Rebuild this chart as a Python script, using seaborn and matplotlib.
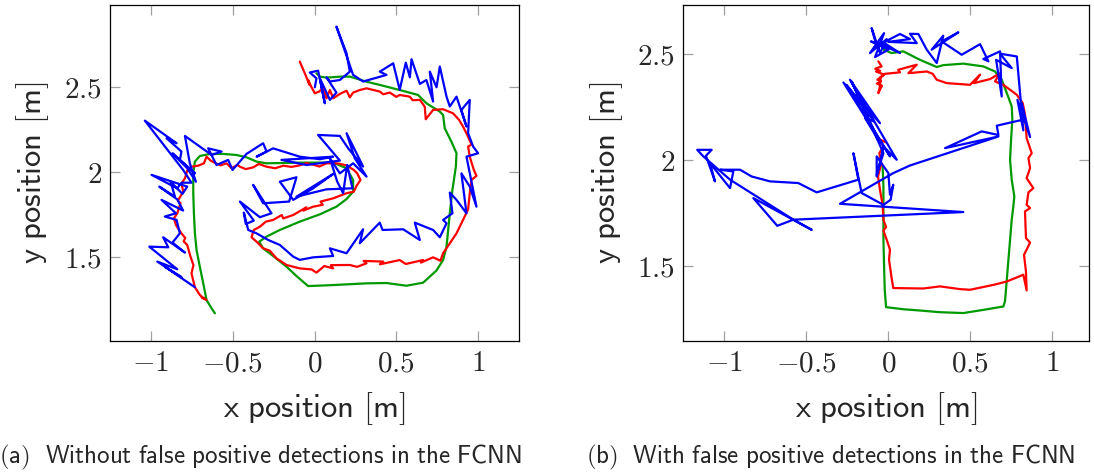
import numpy as np
import pandas as pd
import matplotlib
matplotlib.use("Agg")
import matplotlib.pyplot as plt
from matplotlib.ticker import FixedLocator, FuncFormatter
import seaborn as sns

# ---------------- data: panel (a) ----------------
a_gt_x = [-0.609, -0.629, -0.660, -0.680, -0.701, -0.721, -0.731, -0.737, -0.741, -0.741, -0.731, -0.701,
          -0.640, -0.558, -0.477, -0.415, -0.354, -0.293, -0.090, 0.114, 0.196, 0.236, 0.236, 0.196, 0.134,
          0.033, -0.090, -0.212, -0.293, -0.338, -0.314, -0.253, -0.171, -0.110, -0.039, 0.114, 0.318, 0.440,
          0.562, 0.664, 0.745, 0.786, 0.807, 0.817, 0.827, 0.843, 0.864, 0.868, 0.837, 0.796, 0.786, 0.766,
          0.684, 0.633, 0.521, 0.399, 0.318, 0.216, 0.165, 0.073, 0.033, 0.012]
a_gt_y = [1.167, 1.196, 1.245, 1.343, 1.441, 1.539, 1.637, 1.755, 1.873, 1.990, 2.059, 2.092,
          2.104, 2.104, 2.098, 2.084, 2.059, 2.049, 2.053, 2.053, 2.020, 1.951, 1.882, 1.839, 1.794,
          1.749, 1.706, 1.657, 1.618, 1.588, 1.549, 1.504, 1.441, 1.386, 1.327, 1.333, 1.343, 1.345,
          1.329, 1.347, 1.418, 1.480, 1.559, 1.657, 1.755, 1.892, 2.029, 2.108, 2.176, 2.255, 2.333, 2.353,
          2.402, 2.451, 2.480, 2.510, 2.529, 2.559, 2.559, 2.553, 2.559, 2.578]

a_est_x = [-0.660, -0.690, -0.672, -0.701, -0.731, -0.752, -0.740, -0.758, -0.778, -0.800, -0.790, -0.813,
           -0.847, -0.859, -0.839, -0.819, -0.835, -0.802, -0.813, -0.792, -0.778, -0.752, -0.711, -0.676,
           -0.660, -0.635, -0.603, -0.574, -0.538, -0.507, -0.470, -0.456, -0.420, -0.375, -0.340, -0.293,
           -0.240, -0.191, -0.140, -0.090, -0.050, -0.008, 0.030, 0.073, 0.138, 0.196, 0.240, 0.261, 0.281,
           0.257, 0.240, 0.196, 0.114, 0.037, 0.050, -0.008, -0.069, -0.050, -0.130, -0.191, -0.200,
           -0.253, -0.297, -0.334, -0.371, -0.385, -0.354, -0.314, -0.273, -0.232, -0.171, -0.090, -0.018,
           0.012, 0.060, 0.114, 0.100, 0.216, 0.260, 0.318, 0.300, 0.420, 0.400, 0.521, 0.558, 0.664,
           0.650, 0.725, 0.770, 0.786, 0.827, 0.868, 0.908, 0.939, 0.949, 0.959, 0.990, 0.974, 0.949,
           0.939, 0.960, 0.929, 0.908, 0.884, 0.847, 0.786, 0.725, 0.680, 0.674, 0.644, 0.600, 0.582,
           0.521, 0.500, 0.460, 0.420, 0.399, 0.318, 0.277, 0.236, 0.216, 0.196, 0.155, 0.114, 0.094,
           0.073, 0.053, 0.029, 0.002, -0.018, -0.039, -0.030, -0.059, -0.090]
a_est_y = [1.245, 1.262, 1.250, 1.275, 1.320, 1.402, 1.450, 1.500, 1.569, 1.590, 1.610, 1.637,
           1.686, 1.725, 1.755, 1.814, 1.830, 1.882, 1.931, 1.961, 2.006, 2.029, 2.035, 2.049,
           2.088, 2.065, 2.049, 2.037, 2.049, 2.020, 2.040, 2.029, 2.015, 2.025, 2.045, 2.029,
           2.020, 2.035, 2.028, 2.037, 2.050, 2.041, 2.030, 2.049, 2.049, 2.037, 2.010, 1.990, 1.951,
           1.916, 1.882, 1.873, 1.843, 1.824, 1.805, 1.794, 1.771, 1.790, 1.745, 1.725, 1.745,
           1.716, 1.706, 1.676, 1.657, 1.614, 1.588, 1.549, 1.535, 1.490, 1.451, 1.431, 1.425,
           1.406, 1.445, 1.431, 1.450, 1.451, 1.440, 1.461, 1.475, 1.471, 1.455, 1.480, 1.457, 1.480,
           1.465, 1.496, 1.476, 1.520, 1.578, 1.637, 1.716, 1.778, 1.873, 1.951, 1.975, 2.010, 2.088,
           2.147, 2.160, 2.225, 2.265, 2.304, 2.343, 2.367, 2.363, 2.308, 2.382, 2.422, 2.420, 2.441,
           2.451, 2.440, 2.465, 2.455, 2.471, 2.490, 2.480, 2.465, 2.437, 2.476, 2.457, 2.431, 2.480,
           2.431, 2.496, 2.471, 2.461, 2.496, 2.539, 2.510, 2.578, 2.647]

a_det_x = [-0.731, -0.915, -0.813, -0.961, -0.839, -1.010, -0.894, -0.925, -0.792, -0.868, -0.823,
           -0.843, -0.915, -0.847, -0.935, -0.803, -0.839, -0.949, -0.853, -0.880, -0.807, -0.778,
           -0.996, -0.839, -0.813, -0.752, -0.803, -1.037, -0.843, -0.904, -0.813, -0.823, -0.731,
           -0.868, -0.778, -0.725, -0.762, -0.792, -0.629, -0.568, -0.650, -0.599, -0.528, -0.501,
           -0.416, -0.314, -0.293, -0.354, -0.253, -0.090, 0.033, 0.114, -0.202, -0.049, 0.155,
           0.022, 0.155, 0.206, 0.297, 0.196, 0.246, 0.318, 0.236, 0.155, 0.094, 0.139, 0.175,
           0.200, 0.232, 0.073, -0.110, 0.114, -0.008, -0.130, -0.212, -0.110, -0.155, -0.314,
           -0.375, -0.263, -0.334, -0.456, -0.371, -0.420, -0.432, -0.405, -0.354, -0.283, -0.212,
           -0.130, -0.090, -0.008, 0.114, 0.094, 0.196, 0.297, 0.277, 0.399, 0.416, 0.542, 0.644,
           0.613, 0.725, 0.766, 0.807, 0.786, 0.843, 0.827, 0.868, 0.929, 0.898, 0.949, 0.990,
           0.929, 1.000, 0.970, 0.939, 0.949, 0.898, 0.929, 0.868, 0.827, 0.807, 0.766, 0.746,
           0.705, 0.725, 0.684, 0.644, 0.593, 0.583, 0.558, 0.521, 0.481, 0.399, 0.440, 0.297,
           0.236, 0.134, 0.196, 0.216, 0.155, 0.094, 0.073, 0.134, 0.094, 0.033, 0.063, 0.022,
           -0.029, 0.012, 0.002]
a_det_y = [1.320, 1.441, 1.379, 1.471, 1.426, 1.559, 1.555, 1.614, 1.524, 1.583, 1.637,
           1.716, 1.736, 1.755, 1.834, 1.771, 1.837, 1.912, 1.853, 1.941, 1.869, 1.912,
           1.981, 1.902, 1.935, 1.935, 2.010, 2.300, 2.167, 2.196, 2.118, 2.069, 1.990,
           2.108, 2.020, 1.941, 2.049, 2.210, 2.098, 2.118, 2.137, 2.039, 2.069, 2.010,
           2.104, 2.167, 2.118, 2.088, 2.137, 2.088, 2.073, 2.088, 2.069, 2.039, 2.065,
           2.216, 2.210, 2.137, 2.030, 2.226, 2.079, 1.971, 2.049, 1.990, 2.079, 1.941, 1.873,
           2.039, 1.902, 1.896, 1.853, 1.986, 1.902, 1.834, 1.941, 1.967, 1.824, 1.814,
           1.922, 1.755, 1.732, 1.824, 1.712, 1.692, 1.759, 1.657, 1.637, 1.598, 1.569,
           1.500, 1.481, 1.496, 1.504, 1.549, 1.520, 1.661, 1.579, 1.700, 1.657, 1.661, 1.598,
           1.700, 1.657, 1.614, 1.696, 1.716, 1.755, 1.877, 1.834, 1.755, 1.990, 1.912, 1.794,
           2.088, 2.108, 2.147, 2.226, 2.422, 2.363, 2.265, 2.441, 2.383, 2.441, 2.618, 2.496,
           2.588, 2.412, 2.539, 2.516, 2.661, 2.555, 2.641, 2.481, 2.637, 2.588, 2.569, 2.530,
           2.569, 2.853, 2.696, 2.588, 2.539, 2.530, 2.555, 2.465, 2.422, 2.549, 2.402, 2.594,
           2.583, 2.549, 2.496]

# ---------------- data: panel (b) ----------------
b_gt_x = [-0.035, -0.030, -0.030, -0.030, -0.026, -0.022, -0.014, 0.091, 0.193, 0.315, 0.457, 0.579,
          0.640, 0.701, 0.711, 0.722, 0.732, 0.742, 0.752, 0.762, 0.768, 0.752, 0.742, 0.748, 0.756,
          0.752, 0.726, 0.691, 0.650, 0.579, 0.457, 0.335, 0.295, 0.193, 0.091, 0.020, -0.030]
b_gt_y = [1.969, 1.874, 1.748, 1.622, 1.496, 1.386, 1.304, 1.294, 1.288, 1.280, 1.276, 1.291,
          1.299, 1.307, 1.331, 1.433, 1.528, 1.622, 1.717, 1.780, 1.827, 1.906, 2.000, 2.094, 2.189,
          2.252, 2.307, 2.378, 2.417, 2.441, 2.454, 2.447, 2.438, 2.472, 2.512, 2.504, 2.520]

b_est_x = [-0.061, -0.041, -0.080, -0.050, -0.075, -0.026, -0.067, -0.045, -0.070, -0.039, -0.061,
           -0.052, -0.047, -0.020, 0.071, 0.060, 0.173, 0.122, 0.234, 0.270, 0.295, 0.356, 0.498,
           0.559, 0.522, 0.620, 0.681, 0.650, 0.701, 0.783, 0.819, 0.833, 0.843, 0.874, 0.854, 0.864,
           0.843, 0.884, 0.854, 0.843, 0.864, 0.833, 0.839, 0.864, 0.827, 0.839, 0.843, 0.823, 0.722,
           0.640, 0.498, 0.437, 0.315, 0.213, 0.030, 0.020, 0.004, 0.010, -0.010, -0.030, -0.014,
           -0.030, -0.035, -0.051, -0.063, -0.043, -0.055, -0.030, -0.059, -0.014]
b_est_y = [2.465, 2.441, 2.430, 2.420, 2.417, 2.402, 2.378, 2.370, 2.360, 2.350, 2.315,
           2.345, 2.391, 2.406, 2.413, 2.425, 2.449, 2.409, 2.417, 2.406, 2.378, 2.362, 2.354,
           2.402, 2.362, 2.381, 2.409, 2.370, 2.354, 2.307, 2.268, 2.213, 2.102, 2.031, 2.008, 1.961,
           1.913, 1.866, 1.846, 1.787, 1.772, 1.756, 1.630, 1.609, 1.551, 1.472, 1.383, 1.457, 1.425,
           1.409, 1.386, 1.389, 1.402, 1.392, 1.394, 1.441, 1.528, 1.575, 1.622, 1.666, 1.682,
           1.717, 1.787, 1.858, 1.921, 1.984, 2.031, 2.063, 2.098, 2.082]

b_det_x = [-0.071, -0.102, -0.051, -0.010, -0.112, -0.026, -0.081, 0.000, -0.106, -0.014, -0.061,
           0.071, -0.030, 0.071, 0.132, 0.000, 0.173, 0.132, 0.183, 0.234, 0.295, 0.335, 0.264, 0.427,
           0.325, 0.447, 0.559, 0.610, 0.579, 0.681, 0.691, 0.657, 0.752, 0.681, 0.783, 0.823, 0.787,
           0.864, 0.813, 0.819, 0.661, 0.671, 0.569, 0.346, 0.671, 0.132, 0.030, -0.295, 0.457,
           -0.579, -0.467, -0.823, -0.677, -0.579, -0.965, -1.128, -1.165, -1.077, -1.112, -1.057,
           -1.087, -0.965, -0.945, -1.026, -0.904, -0.833, -0.722, -0.549, -0.437, -0.183, -0.213,
           -0.163, -0.030, 0.014, 0.030, 0.010, 0.000, -0.071, -0.071, -0.030, 0.051, -0.234, -0.051,
           -0.274, 0.010, -0.254, -0.087, -0.142, -0.061, -0.224, -0.030, -0.071]
b_det_y = [2.535, 2.622, 2.504, 2.570, 2.504, 2.598, 2.485, 2.520, 2.559, 2.535, 2.551,
           2.504, 2.554, 2.594, 2.570, 2.557, 2.551, 2.595, 2.594, 2.520, 2.457, 2.586, 2.520, 2.602,
           2.559, 2.496, 2.546, 2.465, 2.476, 2.512, 2.299, 2.472, 2.433, 2.501, 2.488, 2.139, 2.283,
           2.107, 2.268, 2.189, 2.161, 2.117, 2.134, 2.055, 2.110, 1.973, 1.937, 1.792, 1.753,
           1.717, 1.669, 1.819, 1.688, 1.717, 1.906, 2.016, 2.047, 2.047, 2.019, 1.898,
           1.984, 1.866, 1.945, 1.953, 1.953, 1.921, 1.898, 1.890, 1.846, 1.906, 2.031,
           1.843, 1.787, 1.811, 1.882, 1.835, 1.937, 2.016, 1.921, 2.063, 2.000, 2.378, 2.173,
           2.365, 2.016, 2.354, 2.181, 2.197, 2.094, 2.370, 2.031, 1.929]

x_ticks = [-1, -0.5, 0, 0.5, 1]
y_ticks = [1.5, 2, 2.5]
x_label = "x position [m]"
y_label = "y position [m]"
captions = ["(a)  Without false positive detections in the FCNN",
            "(b)  With false positive detections in the FCNN"]

# ---------------- style ----------------
sns.set_style("white")
plt.rcParams["mathtext.fontset"] = "cm"
plt.rcParams["font.family"] = ["DejaVu Sans"]

GREEN = "#009a00"
RED = "#ff0000"
BLUE = "#0000ff"
LW = 1.6

fig = plt.figure(figsize=(10.94, 4.72), dpi=100)
ax_a = fig.add_axes([110 / 1094, 131 / 472, 409 / 1094, 336 / 472])
ax_b = fig.add_axes([683.3 / 1094, 131 / 472, 406 / 1094, 336 / 472])

panels = [
    (ax_a, (a_gt_x, a_gt_y), (a_est_x, a_est_y), (a_det_x, a_det_y), (-1.25, 1.25), (1.004, 2.98)),
    (ax_b, (b_gt_x, b_gt_y), (b_est_x, b_est_y), (b_det_x, b_det_y), (-1.25, 1.225), (1.144, 2.731)),
]

def mathfmt(v, pos):
    return f"${v:g}$"

def sans(s):
    return r"$\mathsf{" + s.replace(" ", r"\ ") + "}$"

for ax, gt, est, det, xl, yl in panels:
    for (xs, ys), col in [(gt, GREEN), (est, RED), (det, BLUE)]:
        df = pd.DataFrame({"x": xs, "y": ys})
        sns.lineplot(data=df, x="x", y="y", sort=False, estimator=None, color=col,
                     linewidth=LW, ax=ax, legend=False)
    ax.set_xlim(*xl)
    ax.set_ylim(*yl)
    ax.xaxis.set_major_locator(FixedLocator(x_ticks))
    ax.yaxis.set_major_locator(FixedLocator(y_ticks))
    ax.xaxis.set_major_formatter(FuncFormatter(mathfmt))
    ax.yaxis.set_major_formatter(FuncFormatter(mathfmt))
    ax.tick_params(direction="in", length=7, width=0.9, color="#a0a0a0",
                   top=True, right=True, bottom=True, left=True, labelsize=21, pad=6)
    for sp in ax.spines.values():
        sp.set_color("black")
        sp.set_linewidth(0.9)
    ax.set_xlabel(sans(x_label), fontsize=23.5, labelpad=9)
    ax.set_ylabel(sans(y_label), fontsize=23.5, labelpad=9)

fig.text(0.238, 0.03, sans(captions[0]), ha="center", va="center", fontsize=18)
fig.text(0.759, 0.03, sans(captions[1]), ha="center", va="center", fontsize=18)

fig.savefig("out.png", dpi=100, facecolor="white")
